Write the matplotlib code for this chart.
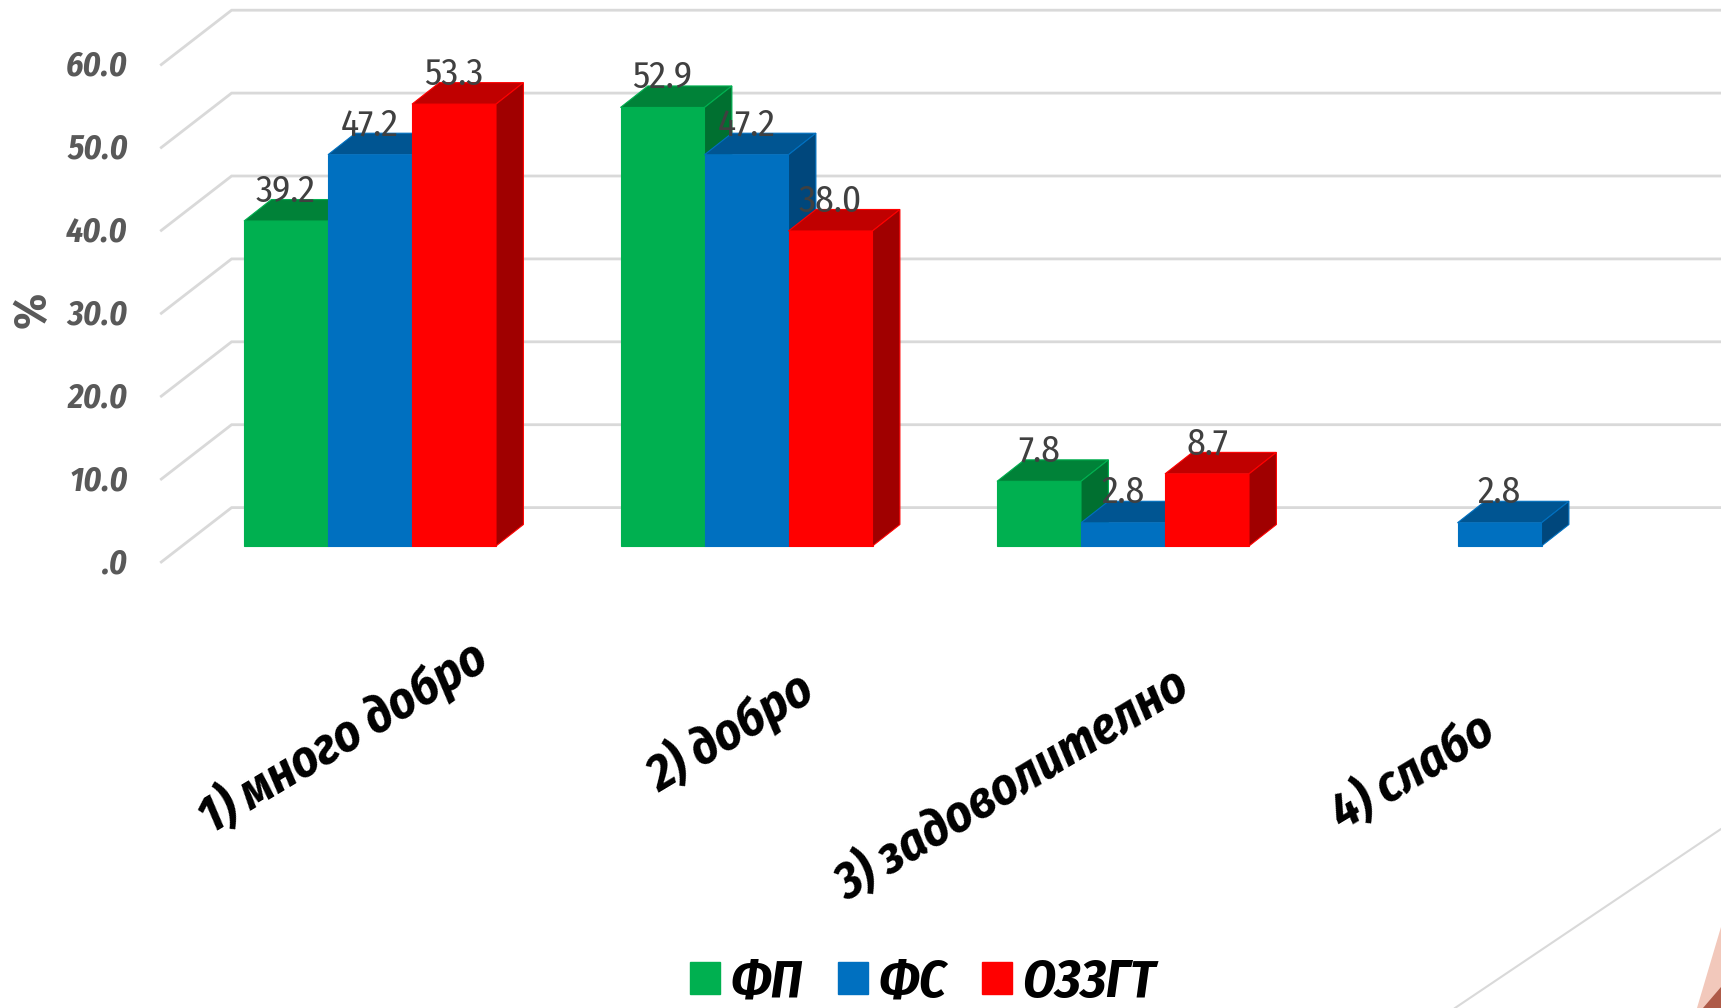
import matplotlib
matplotlib.use("Agg")
import matplotlib.pyplot as plt
from matplotlib.patches import Patch, Polygon
import numpy as np

categories = ['1) много добро', '2) добро', '3) задоволително', '4) слабо']
series_names = ['ФП', 'ФС', 'ОЗЗГТ']
fp_values = [39.2, 52.9, 7.8, 0]
fs_values = [47.2, 47.2, 2.8, 2.8]
ozzgt_values = [53.3, 38.0, 8.7, 0]
grid_values = [0, 10, 20, 30, 40, 50, 60]
tick_labels = ['.0', '10.0', '20.0', '30.0', '40.0', '50.0', '60.0']

front_colors = ['#00B050', '#0070C0', '#FF0000']
top_colors = ['#008238', '#005592', '#C00000']
side_colors = ['#007030', '#00477C', '#A00000']

W, H = 1721, 1008
PX_CAT = 376.5   # pixels per category
PX_VAL = 8.29    # pixels per percent
X0 = 370         # pixel of first category
Y0 = 546         # pixel of zero on the bar front

fonts = ['Fira Sans Condensed', 'Liberation Sans', 'DejaVu Sans']
plt.rcParams['font.family'] = fonts

fig = plt.figure(figsize=(W / 100, H / 100), dpi=100)
ax = fig.add_axes([0, 0, 1, 1])
ax.set_xlim(-X0 / PX_CAT, (W - X0) / PX_CAT)
ax.set_ylim(-(H - Y0) / PX_VAL, Y0 / PX_VAL)
ax.axis('off')

# depth of the fake 3d box, in data units
bar_w = 84 / PX_CAT
depth_x = 27.4 / PX_CAT
depth_y = 21.5 / PX_VAL

# gridlines: floor sits a bit in front of the bars
front_x = (161.3 - X0) / PX_CAT
back_x = (231.6 - X0) / PX_CAT
end_x = (W - X0) / PX_CAT
front_dy = -16 / PX_VAL
back_dy = 38.4 / PX_VAL
for v, lab in zip(grid_values, tick_labels):
    ax.plot([front_x, back_x, end_x], [v + front_dy, v + back_dy, v + back_dy],
            color='#D9D9D9', lw=2, solid_joinstyle='miter', zorder=1)
    ax.text((128 - X0) / PX_CAT, v + front_dy - 2 / PX_VAL, lab, ha='right', va='center',
            fontsize=24.5, fontweight='bold', fontstyle='italic', color='#595959')

ax.text((33 - X0) / PX_CAT, (Y0 - 310) / PX_VAL, '%', rotation=90, ha='center', va='center',
        fontsize=33, fontweight='bold', color='#595959')

all_values = [fp_values, fs_values, ozzgt_values]
for s, values in enumerate(all_values):
    for c, v in enumerate(values):
        if v == 0:
            continue
        left = c + (s - 1.5) * bar_w
        right = left + bar_w
        ax.bar(left, v, width=bar_w, align='edge', color=front_colors[s],
               edgecolor=front_colors[s], lw=0.8, zorder=3 + s)
        ax.fill([left, left + depth_x, right + depth_x, right],
                [v, v + depth_y, v + depth_y, v],
                facecolor=top_colors[s], edgecolor=front_colors[s], lw=0.8, zorder=3 + s)
        ax.fill([right, right + depth_x, right + depth_x, right],
                [0, depth_y, v + depth_y, v],
                facecolor=side_colors[s], edgecolor=front_colors[s], lw=0.8, zorder=3 + s)

for s, values in enumerate(all_values):
    for c, v in enumerate(values):
        if v == 0:
            continue
        ax.annotate(f'{v:.1f}', (c + (s - 1) * bar_w, v), xytext=(0, 21.5), textcoords='offset points',
                    ha='center', va='center', fontsize=27, color='#404040', zorder=10)

# category labels are placed by hand in the original, so each has its own shift
label_dx = [-27, -16, -110, -87]
label_y = [737, 732, 785, 772]
for c, lab in enumerate(categories):
    ax.text(c + label_dx[c] / PX_CAT, (Y0 - label_y[c]) / PX_VAL, lab, rotation=31,
            rotation_mode='anchor', ha='center', va='center', fontsize=37,
            fontweight='bold', fontstyle='italic', color='black')

handles = [Patch(facecolor=col, edgecolor=col) for col in front_colors]
ax.legend(handles, series_names, loc='center', bbox_to_anchor=(923 / W, 1 - 983 / H),
          ncol=3, frameon=False, handlelength=0.56, handleheight=0.56, handletextpad=0.2,
          columnspacing=0.68, labelcolor='black', borderpad=0,
          prop={'family': fonts, 'weight': 'bold', 'style': 'italic', 'size': 38})

# corner decoration of the slide
fig.add_artist(plt.Line2D([1455 / W, 1], [0, 1 - 829 / H], color='#D9D9D9', lw=1.5))
fig.add_artist(Polygon([(1697 / W, 0), (1, 1 - 927 / H), (1, 0)], closed=True,
                       facecolor='#F2C8BB', edgecolor='none', transform=fig.transFigure))
fig.add_artist(Polygon([(1703 / W, 0), (1, 1 - 987 / H), (1, 0)], closed=True,
                       facecolor='#AE5A48', edgecolor='none', transform=fig.transFigure))

fig.savefig('out.png', dpi=100)
